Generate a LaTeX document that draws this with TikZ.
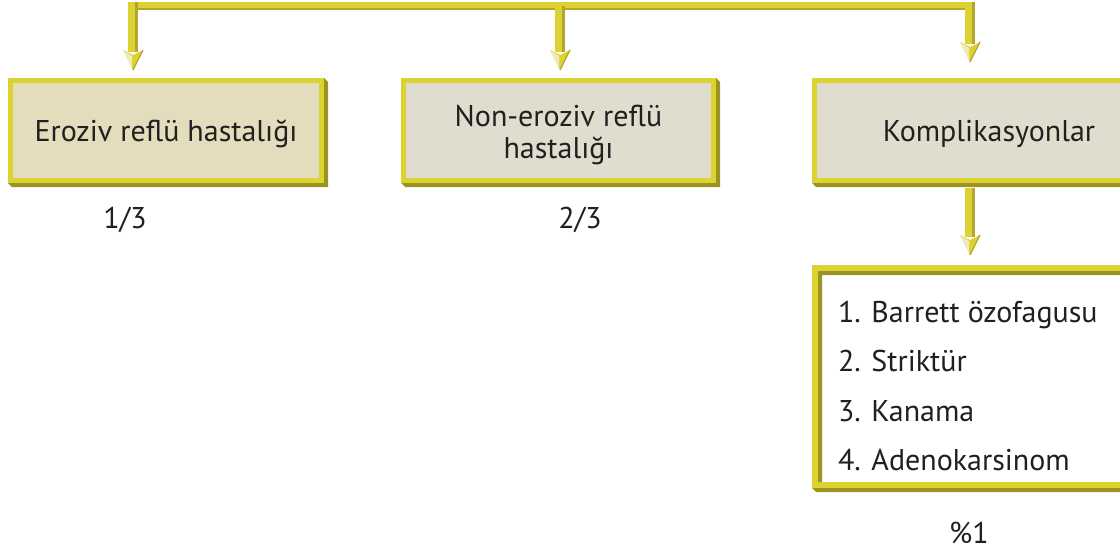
\documentclass[tikz,border=0pt]{standalone}
\usepackage{fontspec}
\setmainfont{PT Sans}
\usetikzlibrary{calc}
\definecolor{ymain}{HTML}{DCD332}
\definecolor{yshadow}{HTML}{9B9322}
\definecolor{yside}{HTML}{B0A72C}
\definecolor{yhi}{HTML}{EEEBB8}
\definecolor{fillA}{HTML}{E3DDBD}
\definecolor{fillB}{HTML}{E0DDCF}
\definecolor{textc}{HTML}{231F20}
\tikzset{
  boxshape/.style={draw=ymain, line width=5pt, inner sep=0pt, outer sep=0pt},
  txt/.style={font=\fontsize{30}{36}\selectfont, text=textc, inner sep=0pt, outer sep=0pt}
}
\newcommand\boxshade[2][4]{%
  \fill[yshadow] ($(#2.north east)+(2.5,-2.5)$) -- ++(#1,#1)
    -- ($(#2.south east)+(2.5+#1,2.5+#1)$) -- ($(#2.south west)+(-2.5+#1,2.5+#1)$)
    -- ($(#2.south west)+(-2.5,2.5)$) -- ($(#2.south east)+(2.5,2.5)$) -- cycle;}
\newcommand\yarrow[2]{%
  \fill[ymain] let \p1=(#1), \p2=(#2) in (\x1-5pt,\y1) rectangle (\x1+5pt,\y2+18pt);
  \fill[yside] let \p1=(#1), \p2=(#2) in (\x1+2pt,\y1) rectangle (\x1+5pt,\y2+18pt);
  \fill[ymain] let \p1=(#1), \p2=(#2) in (\x1-10pt,\y2+20pt) -- (\x1,\y2+15pt) -- (\x1+10pt,\y2+20pt) -- (\x1,\y2) -- cycle;
  \fill[yhi] let \p1=(#1), \p2=(#2) in (\x1-10pt,\y2+20pt) -- (\x1-1pt,\y2+14pt) -- (\x1-1pt,\y2+2pt) -- cycle;
  \draw[yside, line width=1.2pt] let \p1=(#1), \p2=(#2) in (\x1+10pt,\y2+20pt) -- (\x1,\y2);
}
\begin{document}
\begin{tikzpicture}[x=1pt,y=-1pt]
\useasboundingbox (0,0) rectangle (1120,551);
% boxes
\node[boxshape, fill=fillA, minimum width=311pt, minimum height=100pt] (b1) at (166,130.5) {};
\node[boxshape, fill=fillB, minimum width=310pt, minimum height=100pt] (b2) at (558.5,130.5) {};
\node[boxshape, fill=fillB, minimum width=349pt, minimum height=100pt] (b3) at (989,130.5) {};
\boxshade{b1}\boxshade{b2}\boxshade{b3}
% list box
\node[draw=ymain, line width=6pt, fill=white, inner sep=0pt, outer sep=0pt, minimum width=345pt, minimum height=217pt] (lb) at (987.5,376.5) {};
\fill[yshadow] (818,271) -- (1160,271) -- (1160,275) -- (822,275) -- (822,482) -- (818,482) -- cycle;
\fill[yshadow] (812,488) -- (1160,488) -- (1160,492) -- (816,492) -- cycle;
% texts
\node[txt, anchor=base] (t1) at (166,142) {Eroziv reflü hastalığı};
\node[txt, anchor=base] (t2a) at (558.5,127) {Non-eroziv reflü};
\node[txt, anchor=base] (t2b) at (558.5,158) {hastalığı};
\node[txt, anchor=base] (t3) at (989,142) {Komplikasyonlar};
\node[txt, anchor=base] (r1) at (125,228) {1/3};
\node[txt, anchor=base] (r2) at (580,228) {2/3};
\node[txt, anchor=base] (r3) at (969,543) {\%1};
\node[txt, anchor=base west] (l1) at (838,322) {1. Barrett özofagusu};
\node[txt, anchor=base west] (l2) at (838,371) {2. Striktür};
\node[txt, anchor=base west] (l3) at (838,421) {3. Kanama};
\node[txt, anchor=base west] (l4) at (838,470) {4. Adenokarsinom};
% top connector
\coordinate (j1) at (133,2);
\coordinate (j2) at (560,6);
\coordinate (j3) at (970,2);
\fill[ymain] (128,2) rectangle (975,10);
\fill[yside] (138,8.5) rectangle (965,10.5);
\coordinate (e1) at ($(j1 |- b1.north)+(0,-10.5)$);
\coordinate (e2) at ($(j2 |- b2.north)+(0,-10.5)$);
\coordinate (e3) at ($(j3 |- b3.north)+(0,-18.5)$);
\yarrow{j1}{e1}
\yarrow{j2}{e2}
\yarrow{j3}{e3}
\coordinate (s4) at ($(b3.south -| j3)+(0,7.5)$);
\coordinate (e4) at ($(j3 |- lb.north)+(0,-13)$);
\yarrow{s4}{e4}
\end{tikzpicture}
\end{document}
